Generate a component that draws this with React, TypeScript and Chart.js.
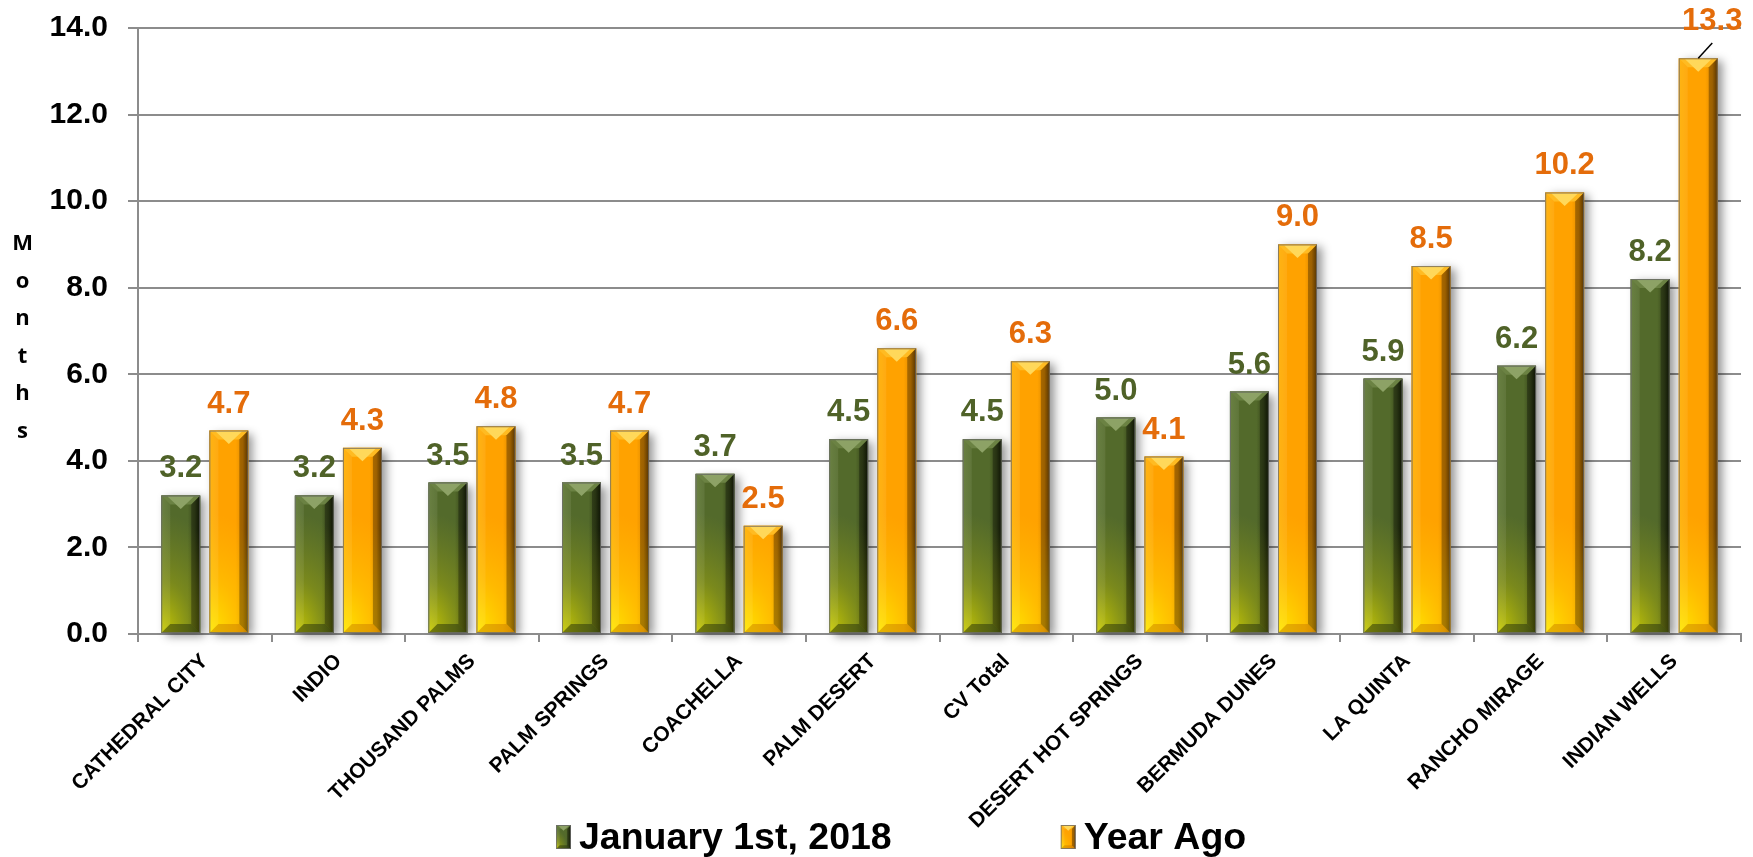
import React, { useEffect, useRef } from 'react';
import { Chart, registerables } from 'chart.js';

Chart.register(...registerables);

const categories = [
  'CATHEDRAL CITY', 'INDIO', 'THOUSAND PALMS', 'PALM SPRINGS', 'COACHELLA', 'PALM DESERT',
  'CV Total', 'DESERT HOT SPRINGS', 'BERMUDA DUNES', 'LA QUINTA', 'RANCHO MIRAGE', 'INDIAN WELLS',
];
const januaryValues = [3.2, 3.2, 3.5, 3.5, 3.7, 4.5, 4.5, 5.0, 5.6, 5.9, 6.2, 8.2];
const yearAgoValues = [4.7, 4.3, 4.8, 4.7, 2.5, 6.6, 6.3, 4.1, 9.0, 8.5, 10.2, 13.3];
const seriesNames = ['January 1st, 2018', 'Year Ago'];
const yAxisTitle = 'Months';

const FONT = '"Liberation Sans", Arial, Helvetica, sans-serif';

type Scheme = {
  left: string; mid: string; darkish: string; dark: string;
  glow: string; glowMid: string; glowEnd: string;
  top: string; topHi: string; bottom: string; label: string;
};

const schemes: Scheme[] = [
  {
    left: '#5f7834', mid: '#536a2b', darkish: '#3a4a1c', dark: '#141c06',
    glow: 'rgba(210,210,0,0.95)', glowMid: 'rgba(170,175,10,0.45)', glowEnd: 'rgba(150,160,20,0)',
    top: '#6b8243', topHi: '#8da266', bottom: 'rgba(35,48,12,0.5)', label: '#4F6228',
  },
  {
    left: '#ffb000', mid: '#ffa200', darkish: '#e08a00', dark: '#7a4a00',
    glow: 'rgba(255,235,0,0.95)', glowMid: 'rgba(255,215,0,0.45)', glowEnd: 'rgba(255,200,0,0)',
    top: '#ffbb22', topHi: '#ffd85a', bottom: 'rgba(190,110,0,0.4)', label: '#E46C0A',
  },
];

function drawBevel(ctx: CanvasRenderingContext2D, l: number, t: number, r: number, b: number, s: Scheme, small = false) {
  const w = r - l;
  const h = b - t;
  if (h <= 0 || w <= 0) return;
  const bv = small ? Math.min(4, w / 4, h / 2) : Math.min(9, w / 4, h / 2);
  ctx.save();
  ctx.beginPath();
  ctx.rect(l, t, w, h);
  ctx.clip();
  const g = ctx.createLinearGradient(l, 0, r, 0);
  g.addColorStop(0, s.left);
  g.addColorStop(0.25, s.mid);
  g.addColorStop(0.68, s.mid);
  g.addColorStop(0.86, s.darkish);
  g.addColorStop(1, s.dark);
  ctx.fillStyle = g;
  ctx.fillRect(l, t, w, h);

  ctx.save();
  ctx.translate(l, b);
  ctx.scale(0.6, 1);
  const rad = small ? h * 0.8 : Math.min(120, h * 0.9 + 20);
  const rg = ctx.createRadialGradient(0, 0, 0, 0, 0, rad);
  rg.addColorStop(0, s.glow);
  rg.addColorStop(0.45, s.glowMid);
  rg.addColorStop(1, s.glowEnd);
  ctx.fillStyle = rg;
  ctx.fillRect(0, -rad, rad, rad);
  ctx.restore();

  // top facet
  ctx.beginPath();
  ctx.moveTo(l, t);
  ctx.lineTo(r, t);
  ctx.lineTo(r - bv, t + bv);
  ctx.lineTo(l + bv, t + bv);
  ctx.closePath();
  ctx.fillStyle = s.top;
  ctx.fill();
  ctx.beginPath();
  ctx.moveTo(l + bv * 0.7, t + 1);
  ctx.lineTo(r - bv * 0.7, t + 1);
  ctx.lineTo(l + w / 2, t + bv * 1.5);
  ctx.closePath();
  ctx.fillStyle = s.topHi;
  ctx.fill();
  // right facet
  ctx.beginPath();
  ctx.moveTo(r, t);
  ctx.lineTo(r, b);
  ctx.lineTo(r - bv, b - bv);
  ctx.lineTo(r - bv, t + bv);
  ctx.closePath();
  ctx.fillStyle = 'rgba(0,0,0,0.3)';
  ctx.fill();
  // left facet
  ctx.beginPath();
  ctx.moveTo(l, t);
  ctx.lineTo(l + bv, t + bv);
  ctx.lineTo(l + bv, b - bv);
  ctx.lineTo(l, b);
  ctx.closePath();
  ctx.fillStyle = 'rgba(255,255,255,0.07)';
  ctx.fill();
  // bottom facet
  ctx.beginPath();
  ctx.moveTo(l, b);
  ctx.lineTo(r, b);
  ctx.lineTo(r - bv, b - bv);
  ctx.lineTo(l + bv, b - bv);
  ctx.closePath();
  ctx.fillStyle = s.bottom;
  ctx.fill();
  ctx.restore();

  ctx.save();
  ctx.strokeStyle = 'rgba(110,110,110,0.8)';
  ctx.lineWidth = 1;
  ctx.strokeRect(l + 0.5, t + 0.5, w - 1, h - 1);
  ctx.restore();
}

function barRect(el: any) {
  const p = el.getProps(['x', 'y', 'base', 'width'], true);
  return { l: p.x - p.width / 2, r: p.x + p.width / 2, t: Math.min(p.y, p.base), b: Math.max(p.y, p.base), x: p.x, y: p.y };
}

const backgroundPlugin = {
  id: 'whiteBg',
  beforeDraw(chart: any) {
    const ctx = chart.ctx as CanvasRenderingContext2D;
    ctx.save();
    ctx.fillStyle = '#ffffff';
    ctx.fillRect(0, 0, chart.width, chart.height);
    ctx.restore();
  },
};

const barStylePlugin = {
  id: 'barStyle',
  beforeDatasetsDraw(chart: any) {
    const ctx = chart.ctx as CanvasRenderingContext2D;
    chart.data.datasets.forEach((_ds: any, di: number) => {
      const meta = chart.getDatasetMeta(di);
      meta.data.forEach((el: any) => {
        const { l, r, t, b } = barRect(el);
        ctx.save();
        ctx.shadowColor = 'rgba(0,0,0,0.42)';
        ctx.shadowBlur = 9;
        ctx.shadowOffsetX = 5;
        ctx.shadowOffsetY = 3;
        ctx.fillStyle = schemes[di].mid;
        ctx.fillRect(l, t, r - l, b - t);
        ctx.restore();
      });
    });
  },
  afterDatasetsDraw(chart: any) {
    const ctx = chart.ctx as CanvasRenderingContext2D;
    const area = chart.chartArea;
    chart.data.datasets.forEach((_ds: any, di: number) => {
      const meta = chart.getDatasetMeta(di);
      meta.data.forEach((el: any) => {
        const { l, r, t, b } = barRect(el);
        drawBevel(ctx, l, t, r, b, schemes[di]);
      });
    });
    chart.data.datasets.forEach((ds: any, di: number) => {
      const meta = chart.getDatasetMeta(di);
      meta.data.forEach((el: any, i: number) => {
        const { x, y } = barRect(el);
        const txt = Number(ds.data[i]).toFixed(1);
        ctx.save();
        ctx.font = `bold 31px ${FONT}`;
        ctx.fillStyle = schemes[di].label;
        ctx.textAlign = 'center';
        ctx.textBaseline = 'alphabetic';
        let tx = x;
        let ty = y - 18;
        if (ty - 22 < area.top - 6) {
          tx = x + 14;
          ty = area.top + 2;
          ctx.strokeStyle = '#000';
          ctx.lineWidth = 1.5;
          ctx.beginPath();
          ctx.moveTo(x, y);
          ctx.lineTo(tx, ty + 13);
          ctx.stroke();
        }
        ctx.fillText(txt, tx, ty);
        ctx.restore();
      });
    });
  },
};

const decorPlugin = {
  id: 'decor',
  afterDraw(chart: any) {
    const ctx = chart.ctx as CanvasRenderingContext2D;
    // stacked vertical axis title
    ctx.save();
    ctx.font = `bold 22px "Open Sans", ${FONT}`;
    ctx.fillStyle = '#000';
    ctx.textAlign = 'center';
    ctx.textBaseline = 'alphabetic';
    yAxisTitle.split('').forEach((ch, i) => {
      ctx.fillText(ch, 22.5, 250 + i * 37.5);
    });
    ctx.restore();

    // legend
    ctx.save();
    ctx.font = `bold 37.5px ${FONT}`;
    ctx.fillStyle = '#000';
    ctx.textBaseline = 'alphabetic';
    ctx.textAlign = 'left';
    let cx = 556;
    const baseY = 849;
    seriesNames.forEach((name, i) => {
      drawBevel(ctx, cx, baseY - 24, cx + 15, baseY, schemes[i], true);
      const tx = cx + 23;
      const w = ctx.measureText(name).width;
      ctx.fillStyle = '#000';
      ctx.fillText(name, tx, baseY);
      cx = tx + w + 169;
    });
    ctx.restore();
  },
};

export default function App() {
  const canvasRef = useRef<HTMLCanvasElement | null>(null);

  useEffect(() => {
    document.body.style.margin = '0';
    const canvas = canvasRef.current;
    if (!canvas) return;
    const gridColor = '#8c8c8c';
    const chart = new Chart(canvas, {
      type: 'bar',
      data: {
        labels: categories,
        datasets: [
          {
            label: seriesNames[0],
            data: januaryValues,
            backgroundColor: schemes[0].mid,
            borderWidth: 0,
            categoryPercentage: 0.72,
            barPercentage: 0.81,
          },
          {
            label: seriesNames[1],
            data: yearAgoValues,
            backgroundColor: schemes[1].mid,
            borderWidth: 0,
            categoryPercentage: 0.72,
            barPercentage: 0.81,
          },
        ],
      },
      options: {
        animation: false,
        responsive: false,
        devicePixelRatio: 1,
        layout: { padding: { left: 0, right: 12, top: 28, bottom: 0 } },
        plugins: {
          legend: { display: false },
          tooltip: { enabled: false },
        },
        scales: {
          x: {
            grid: {
              display: true,
              drawOnChartArea: false,
              drawTicks: true,
              tickLength: 8,
              offset: true,
              color: gridColor,
              lineWidth: 2,
            },
            border: { display: true, color: gridColor, width: 2 },
            ticks: {
              autoSkip: false,
              minRotation: 45,
              maxRotation: 45,
              padding: 7,
              color: '#000',
              font: { family: FONT, weight: 'bold', size: 21 },
            },
            afterFit: (scale: any) => {
              scale.height = 223;
            },
          },
          y: {
            min: 0,
            max: 14,
            ticks: {
              stepSize: 2,
              padding: 20,
              color: '#000',
              font: { family: FONT, weight: 'bold', size: 30 },
              callback: (v: any) => Number(v).toFixed(1),
            },
            grid: {
              color: gridColor,
              lineWidth: 2,
              drawTicks: true,
              tickLength: 10,
            },
            border: { display: true, color: gridColor, width: 2 },
            afterFit: (scale: any) => {
              scale.width = 138;
              scale.paddingTop = 0;
              scale.paddingBottom = 0;
            },
          },
        },
      },
      plugins: [backgroundPlugin, barStylePlugin, decorPlugin],
    } as any);
    return () => chart.destroy();
  }, []);

  return (
    <div style={{ width: 1753, height: 857, background: '#fff' }}>
      <canvas ref={canvasRef} width={1753} height={857} style={{ display: 'block', width: 1753, height: 857 }} />
    </div>
  );
}
